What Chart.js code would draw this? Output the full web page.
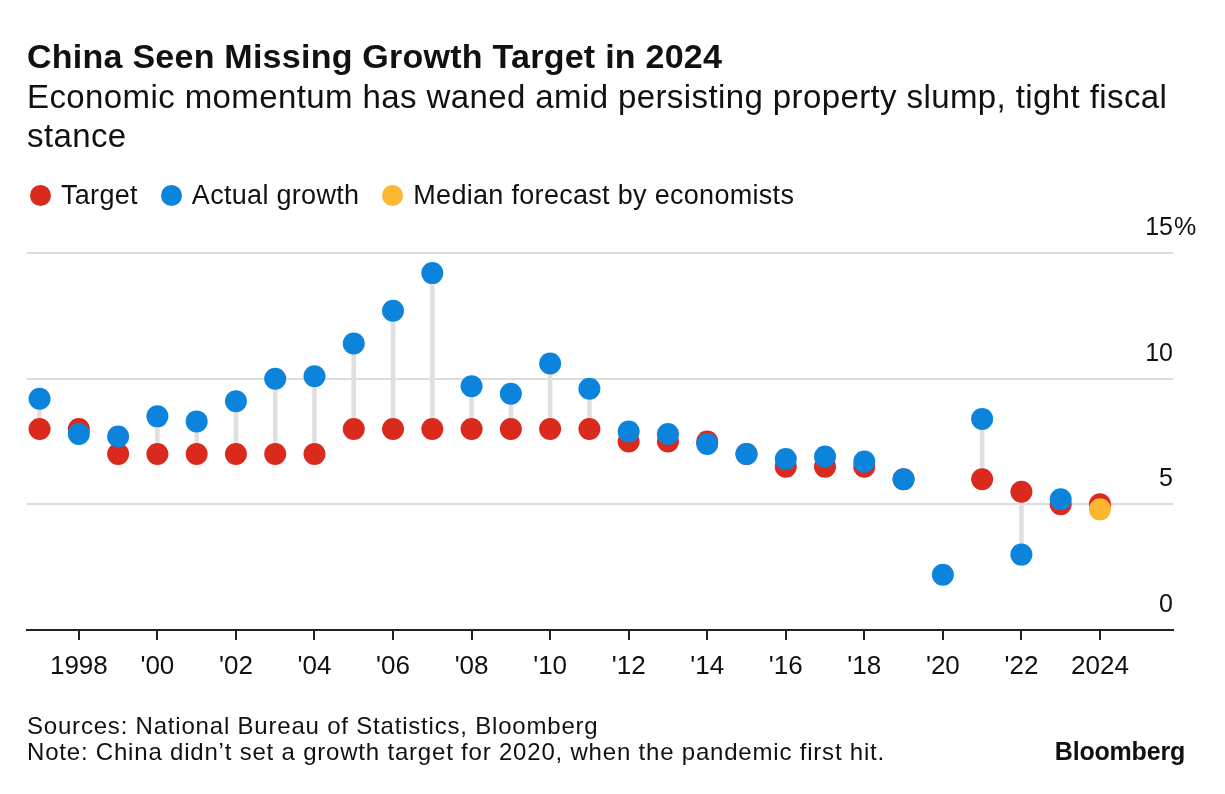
<!DOCTYPE html>
<html>
<head>
<meta charset="utf-8">
<script src="https://cdn.jsdelivr.net/npm/chart.js@4"></script>
<style>
  html, body { margin: 0; padding: 0; background: #fff; }
  body { width: 1225px; height: 794px; position: relative; overflow: hidden; font-family: "Liberation Sans", Arial, sans-serif; color: #111; }
  #wrap { position: absolute; left: 0; top: 0; width: 1225px; height: 794px; }
  .t { position: absolute; white-space: nowrap; }
  #title { left: 27px; top: 37px; font-size: 34px; line-height: 38px; font-weight: bold; letter-spacing: 0.25px; }
  #sub { left: 27px; top: 77px; font-size: 33px; line-height: 39px; letter-spacing: 0.4px; }
  #legend { left: 30px; top: 180px; font-size: 27px; line-height: 30px; display: flex; align-items: center; letter-spacing: 0.3px; }
  .lg { display: flex; align-items: center; margin-right: 23px; }
  .dot { width: 21px; height: 21px; border-radius: 50%; display: inline-block; margin-right: 10px; }
  #foot { left: 27px; top: 713px; font-size: 24px; line-height: 26px; letter-spacing: 0.8px; }
  #logo { right: 40px; top: 736px; font-size: 25px; line-height: 30px; font-weight: bold; letter-spacing: -0.2px; }
</style>
</head>
<body>
<div id="wrap"><canvas id="c" width="1225" height="794"></canvas></div>
<div class="t" id="title">China Seen Missing Growth Target in 2024</div>
<div class="t" id="sub">Economic momentum has waned amid persisting property slump, tight fiscal<br>stance</div>
<div class="t" id="legend"></div>
<div class="t" id="foot">Sources: National Bureau of Statistics, Bloomberg<br>Note: China didn’t set a growth target for 2020, when the pandemic first hit.</div>
<div class="t" id="logo">Bloomberg</div>
<script>
// ---- Data ----
const years = [1997,1998,1999,2000,2001,2002,2003,2004,2005,2006,2007,2008,2009,2010,2011,2012,2013,2014,2015,2016,2017,2018,2019,2020,2021,2022,2023,2024];
const targetValues = [8,8,7,7,7,7,7,7,8,8,8,8,8,8,8,7.5,7.5,7.5,7,6.5,6.5,6.5,6,null,6,5.5,5,5];
const actualValues = [9.2,7.8,7.7,8.5,8.3,9.1,10.0,10.1,11.4,12.7,14.2,9.7,9.4,10.6,9.6,7.9,7.8,7.4,7.0,6.8,6.9,6.7,6.0,2.2,8.4,3.0,5.2,null];
const forecastYears = [2024];
const forecastValues = [4.8];
const xTickValues = [1998,2000,2002,2004,2006,2008,2010,2012,2014,2016,2018,2020,2022,2024];
const xTickLabels = ["1998","'00","'02","'04","'06","'08","'10","'12","'14","'16","'18","'20","'22","2024"];
const yTickValues = [0,5,10,15];
const yTickLabels = ["0","5","10","15"];
const seriesNames = ["Target","Actual growth","Median forecast by economists"];

const RED = '#DA2A1E', BLUE = '#0C84DC', YELLOW = '#FCB731';
const colors = [RED, BLUE, YELLOW];

// legend (HTML)
const lg = document.getElementById('legend');
seriesNames.forEach((n,i)=>{
  const s = document.createElement('span'); s.className='lg';
  s.innerHTML = '<span class="dot" style="background:'+colors[i]+'"></span>'+n;
  lg.appendChild(s);
});

// connector ranges between target and actual/forecast
const connectors = years.map((y,i)=>{
  const t = targetValues[i];
  let a = actualValues[i];
  if (a === null) { const fi = forecastYears.indexOf(y); a = fi >= 0 ? forecastValues[fi] : null; }
  if (t === null || a === null) return null;
  return {x: y, y: [Math.min(t,a), Math.max(t,a)]};
}).filter(d=>d);

const pts = (xs, vs) => xs.map((x,i)=>({x:x, y:vs[i]})).filter(d=>d.y!==null);

const pctPlugin = {
  id: 'pct',
  afterDraw(chart) {
    const ys = chart.scales.y, ctx = chart.ctx;
    ctx.save();
    ctx.font = '25px "Liberation Sans", Arial, sans-serif';
    ctx.fillStyle = '#111';
    ctx.textAlign = 'left'; ctx.textBaseline = 'middle';
    ctx.fillText('%', chart.chartArea.right + 1, ys.getPixelForValue(15) - 25);
    ctx.restore();
  }
};

new Chart(document.getElementById('c'), {
  type: 'scatter',
  data: {
    datasets: [
      { type: 'bar', label: 'gap', data: connectors, backgroundColor: '#e0e0e0', barThickness: 4, order: 4 },
      { label: seriesNames[0], data: pts(years, targetValues), backgroundColor: RED, borderWidth: 0, pointRadius: 11, pointHoverRadius: 11, order: 3 },
      { label: seriesNames[1], data: pts(years, actualValues), backgroundColor: BLUE, borderWidth: 0, pointRadius: 11, pointHoverRadius: 11, order: 2 },
      { label: seriesNames[2], data: pts(forecastYears, forecastValues), backgroundColor: YELLOW, borderWidth: 0, pointRadius: 11, pointHoverRadius: 11, order: 1 }
    ]
  },
  options: {
    responsive: false,
    animation: false,
    clip: false,
    layout: { padding: { left: 27, right: 52, top: 253, bottom: 104 } },
    plugins: { legend: { display: false }, tooltip: { enabled: false } },
    scales: {
      x: {
        type: 'linear', min: 1996.68, max: 2025.86, offset: false,
        afterBuildTicks: s => { s.ticks = xTickValues.map(v=>({value:v})); },
        afterFit: s => { s.height = 60; },
        grid: { offset: false, drawOnChartArea: false, drawTicks: true, tickLength: 10, color: '#222', lineWidth: 2 },
        border: { display: true, color: '#222', width: 2 },
        ticks: {
          padding: 11, color: '#111', maxRotation: 0, autoSkip: false,
          font: { family: '"Liberation Sans", Arial, sans-serif', size: 26 },
          callback: v => { const i = xTickValues.indexOf(v); return i >= 0 ? xTickLabels[i] : ''; }
        }
      },
      y: {
        position: 'right', min: 0, max: 15,
        afterBuildTicks: s => { s.ticks = yTickValues.map(v=>({value:v})); },
        afterFit: s => { s.width = 0; },
        grid: { drawTicks: false, color: c => c.tick && c.tick.value === 0 ? 'rgba(0,0,0,0)' : '#dcdcdc', lineWidth: 2 },
        border: { display: false },
        ticks: {
          mirror: true, padding: 0, labelOffset: -25, color: '#111',
          font: { family: '"Liberation Sans", Arial, sans-serif', size: 25 },
          callback: v => { const i = yTickValues.indexOf(v); return i >= 0 ? yTickLabels[i] : ''; }
        }
      }
    }
  },
  plugins: [pctPlugin]
});
</script>
</body>
</html>
